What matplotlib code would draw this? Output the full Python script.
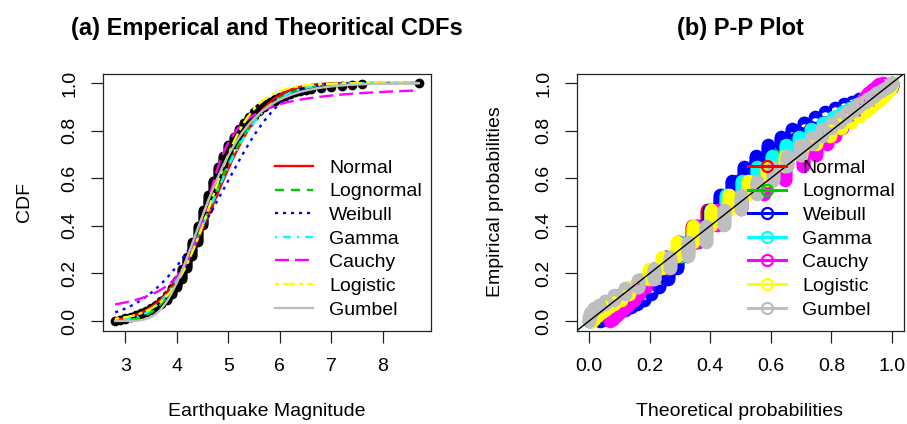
import math
import numpy as np
import matplotlib
matplotlib.use("Agg")
import matplotlib.pyplot as plt
from matplotlib.lines import Line2D

plt.rcParams['font.family'] = ['Liberation Sans', 'DejaVu Sans']
plt.rcParams['lines.scale_dashes'] = False

# ---- data: earthquake magnitudes (0.1 steps) and their counts ----
magnitudes = [2.8, 2.9, 3.0, 3.1, 3.2, 3.3, 3.4, 3.5, 3.6, 3.7, 3.8, 3.9,
              4.0, 4.1, 4.2, 4.3, 4.4, 4.5, 4.6, 4.7, 4.8, 4.9, 5.0, 5.1,
              5.2, 5.3, 5.4, 5.5, 5.6, 5.7, 5.8, 5.9, 6.0, 6.1, 6.2, 6.3,
              6.4, 6.5, 6.6, 6.8, 7.0, 7.2, 7.4, 7.6, 8.7]
counts = [1, 1, 2, 1, 2, 2, 2, 3, 3, 5, 6, 7,
          9, 11, 13, 15, 17, 17, 16, 15, 14, 12, 11, 9,
          8, 7, 6, 5, 4, 4, 3, 3, 2, 2, 2, 1,
          1, 1, 1, 1, 1, 1, 1, 1, 1]

dist_names = ["Normal", "Lognormal", "Weibull", "Gamma", "Cauchy", "Logistic", "Gumbel"]
dist_colors = ["#FF0000", "#00CD00", "#0000FF", "#00FFFF", "#FF00FF", "#FFFF00", "#BEBEBE"]

# fitted parameters
normal_par = (4.72, 0.78)        # mean, sd
lognormal_par = (1.543, 0.162)   # meanlog, sdlog
weibull_par = (5.5, 5.1)         # shape, scale
gamma_par = (36.0, 7.6)          # shape, rate
cauchy_par = (4.6, 0.40)         # location, scale
logistic_par = (4.66, 0.40)      # location, scale
gumbel_par = (4.37, 0.62)        # location, scale

title_a = "(a) Emperical and Theoritical CDFs"
title_b = "(b) P-P Plot"

# ---- CDFs ----
_erf = np.vectorize(math.erf)


def cdf_normal(x, m, s):
    return 0.5 * (1 + _erf((np.asarray(x) - m) / (s * math.sqrt(2))))


def cdf_lognormal(x, m, s):
    return cdf_normal(np.log(x), m, s)


def cdf_weibull(x, k, lam):
    return 1 - np.exp(-(np.asarray(x) / lam) ** k)


def _ginc(a, x):
    if x <= 0:
        return 0.0
    term = 1.0 / a
    total = term
    for n in range(1, 3000):
        term *= x / (a + n)
        total += term
        if term < total * 1e-16:
            break
    return min(1.0, total * math.exp(-x + a * math.log(x) - math.lgamma(a)))


def cdf_gamma(x, a, rate):
    return np.array([_ginc(a, rate * v) for v in np.atleast_1d(x)])


def cdf_cauchy(x, l, s):
    return 0.5 + np.arctan((np.asarray(x) - l) / s) / np.pi


def cdf_logistic(x, l, s):
    return 1 / (1 + np.exp(-(np.asarray(x) - l) / s))


def cdf_gumbel(x, l, s):
    return np.exp(-np.exp(-(np.asarray(x) - l) / s))


cdfs = [lambda x: cdf_normal(x, *normal_par),
        lambda x: cdf_lognormal(x, *lognormal_par),
        lambda x: cdf_weibull(x, *weibull_par),
        lambda x: cdf_gamma(x, *gamma_par),
        lambda x: cdf_cauchy(x, *cauchy_par),
        lambda x: cdf_logistic(x, *logistic_par),
        lambda x: cdf_gumbel(x, *gumbel_par)]

px = 0.72
styles = [dict(ls='-'),
          dict(dashes=(9 * px, 7 * px)),
          dict(dashes=(3 * px, 5 * px)),
          dict(dashes=(2 * px, 6 * px, 8 * px, 6 * px)),
          dict(dashes=(14 * px, 6 * px)),
          dict(dashes=(4 * px, 4 * px, 12 * px, 4 * px)),
          dict(ls='-')]

data = np.sort(np.repeat(np.array(magnitudes), counts))
n = len(data)
obsp = (np.arange(1, n + 1) - 0.5) / n

W, H = 907, 424
fig = plt.figure(figsize=(W / 100, H / 100), dpi=100)
bot = 1 - 330.5 / H
hgt = 257 / H
ax1 = fig.add_axes([103 / W, bot, 328 / W, hgt])
ax2 = fig.add_axes([577 / W, bot, 327 / W, hgt])

FS = 14
lw = 1.7

# ---- panel (a) ----
ax1.plot(data, obsp, 'o', color='black', ms=6, mec='black', zorder=2)
xs = np.linspace(data.min(), data.max(), 400)
for f, c, st, nm in zip(cdfs, dist_colors, styles, dist_names):
    ax1.plot(xs, f(xs), color=c, lw=lw, label=nm, zorder=3, **st)
rng = data.max() - data.min()
ax1.set_xlim(data.min() - 0.04 * rng, data.max() + 0.04 * rng)
ax1.set_ylim(-0.04, 1.04)
ax1.set_xticks([3, 4, 5, 6, 7, 8])
ax1.set_yticks([0, 0.2, 0.4, 0.6, 0.8, 1.0])
ax1.set_yticklabels(["0.0", "0.2", "0.4", "0.6", "0.8", "1.0"])
leg1 = ax1.legend(loc='upper left', bbox_to_anchor=(0.524, 0.667), frameon=False,
                  fontsize=FS, handlelength=1.95, handletextpad=0.85,
                  labelspacing=0.31, borderpad=0, borderaxespad=0)

# ---- panel (b) ----
handles = []
for f, c, nm in zip(cdfs, dist_colors, dist_names):
    ax2.plot(f(data), obsp, 'o', mfc='none', mec=c, ms=8, mew=1.8, zorder=2)
    handles.append(Line2D([], [], color=c, lw=2.2, marker='o', mfc='none',
                          mec=c, ms=8, mew=1.6, label=nm))
ax2.axline((0, 0), (1, 1), color='black', lw=1.0, zorder=4)
ax2.set_xlim(-0.04, 1.04)
ax2.set_ylim(-0.04, 1.04)
ticks01 = [0, 0.2, 0.4, 0.6, 0.8, 1.0]
lab01 = ["0.0", "0.2", "0.4", "0.6", "0.8", "1.0"]
ax2.set_xticks(ticks01)
ax2.set_xticklabels(lab01)
ax2.set_yticks(ticks01)
ax2.set_yticklabels(lab01)
leg2 = ax2.legend(handles=handles, loc='upper left', bbox_to_anchor=(0.523, 0.667),
                  frameon=False, fontsize=FS, handlelength=1.95, handletextpad=0.85,
                  labelspacing=0.31, borderpad=0, borderaxespad=0, numpoints=1)
leg2.set_zorder(5)

for ax in (ax1, ax2):
    for sp in ax.spines.values():
        sp.set_color('#222222')
        sp.set_linewidth(0.9)
    ax.tick_params(direction='out', length=8.6, width=0.9, color='#222222',
                   labelsize=FS, pad=9)
    ax.tick_params(axis='x', pad=11)
    for lab in ax.get_yticklabels():
        lab.set_rotation(90)
        lab.set_va('center')

fig.text(267 / W, 1 - 28 / H, title_a, ha='center', va='center',
         fontsize=17, fontweight='bold')
fig.text(740 / W, 1 - 28 / H, title_b, ha='center', va='center',
         fontsize=17, fontweight='bold')
fig.text(267 / W, 1 - 411 / H, "Earthquake Magnitude", ha='center', va='center', fontsize=FS)
fig.text(740 / W, 1 - 411 / H, "Theoretical probabilities", ha='center', va='center', fontsize=FS)
fig.text(24 / W, 1 - 202 / H, "CDF", ha='center', va='center', rotation=90, fontsize=FS)
fig.text(496 / W, 1 - 202 / H, "Empirical probabilities", ha='center', va='center',
         rotation=90, fontsize=FS)

fig.savefig("out.png", dpi=100)
